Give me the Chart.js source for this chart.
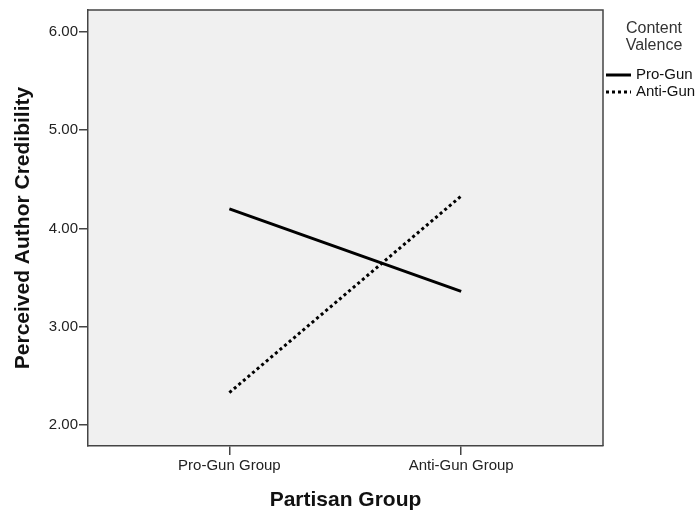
<!DOCTYPE html>
<html>
<head>
<meta charset="utf-8">
<script src="https://cdn.jsdelivr.net/npm/chart.js@4"></script>
<style>
  html, body { margin: 0; padding: 0; background: #fff; }
  canvas { display: block; }
</style>
</head>
<body>
<canvas class="js-chart" width="700" height="515"></canvas>
<script>
const ctx = document.querySelector('.js-chart').getContext('2d');

const categories = ['Pro-Gun Group', 'Anti-Gun Group'];
const proGun = [4.20, 3.36];
const antiGun = [2.33, 4.33];
const yTicks = [2, 3, 4, 5, 6];
const legendTitle = ['Content', 'Valence'];

const FONT = '"Liberation Sans", Arial, sans-serif';

const plotFrame = {
    id: 'plotFrame',
    beforeDraw(chart) {
        const { ctx, chartArea: a } = chart;
        ctx.save();
        ctx.fillStyle = '#f0f0f0';
        ctx.fillRect(a.left, a.top, a.right - a.left, a.bottom - a.top);
        ctx.restore();
    },
    afterDraw(chart) {
        const { ctx, chartArea: a } = chart;
        ctx.save();
        ctx.strokeStyle = '#444';
        ctx.lineWidth = 1.5;
        ctx.beginPath();
        ctx.moveTo(a.left, a.top);
        ctx.lineTo(a.right, a.top);
        ctx.lineTo(a.right, a.bottom);
        ctx.stroke();

        // legend
        ctx.fillStyle = '#333';
        ctx.font = '16px ' + FONT;
        ctx.textAlign = 'center';
        ctx.textBaseline = 'middle';
        legendTitle.forEach((t, i) => ctx.fillText(t, 654, 29 + i * 17));

        ctx.font = '15px ' + FONT;
        ctx.textAlign = 'left';
        chart.data.datasets.forEach((ds, i) => {
            const y = 75 + i * 17;
            ctx.strokeStyle = ds.borderColor;
            ctx.lineWidth = ds.borderWidth;
            ctx.setLineDash(ds.borderDash || []);
            ctx.beginPath();
            ctx.moveTo(606, y);
            ctx.lineTo(631, y);
            ctx.stroke();
            ctx.setLineDash([]);
            ctx.fillStyle = '#111';
            ctx.fillText(ds.label, 636, y);
        });
        ctx.restore();
    }
};

new Chart(ctx, {
    type: 'line',
    data: {
        datasets: [
            {
                label: 'Pro-Gun',
                data: proGun.map((v, i) => ({ x: i, y: v })),
                borderColor: '#000',
                borderWidth: 3,
                pointRadius: 0,
                fill: false
            },
            {
                label: 'Anti-Gun',
                data: antiGun.map((v, i) => ({ x: i, y: v })),
                borderColor: '#000',
                borderWidth: 3,
                borderDash: [3, 3],
                pointRadius: 0,
                fill: false
            }
        ]
    },
    options: {
        responsive: false,
        animation: false,
        devicePixelRatio: 1,
        layout: { padding: { left: 0, right: 97, top: 8, bottom: 0 } },
        plugins: {
            legend: { display: false },
            tooltip: { enabled: false }
        },
        scales: {
            x: {
                type: 'linear',
                min: -0.61,
                max: 1.612,
                afterBuildTicks(scale) {
                    scale.ticks = categories.map((c, i) => ({ value: i }));
                },
                afterFit(scale) { scale.height = 69; },
                ticks: {
                    callback(value) { return categories[value]; },
                    color: '#222',
                    font: { family: FONT, size: 15 },
                    padding: 2,
                    maxRotation: 0
                },
                grid: { drawOnChartArea: false, tickLength: 9, color: '#444', lineWidth: 1.5 },
                border: { color: '#444', width: 1.5 },
                title: {
                    display: true,
                    text: 'Partisan Group',
                    color: '#111',
                    font: { family: FONT, size: 21, weight: 'bold' },
                    padding: { top: 0, bottom: 2 }
                }
            },
            y: {
                min: 1.787,
                max: 6.223,
                afterBuildTicks(scale) {
                    scale.ticks = yTicks.map(v => ({ value: v }));
                },
                afterFit(scale) { scale.width = 88; },
                ticks: {
                    callback(value) { return value.toFixed(2); },
                    color: '#222',
                    font: { family: FONT, size: 15 },
                    padding: 1
                },
                grid: { drawOnChartArea: false, tickLength: 9, color: '#444', lineWidth: 1.5 },
                border: { color: '#444', width: 1.5 },
                title: {
                    display: true,
                    text: 'Perceived Author Credibility',
                    color: '#111',
                    font: { family: FONT, size: 21, weight: 'bold' },
                    padding: { top: 11, bottom: 0 }
                }
            }
        }
    },
    plugins: [plotFrame]
});
</script>
</body>
</html>
